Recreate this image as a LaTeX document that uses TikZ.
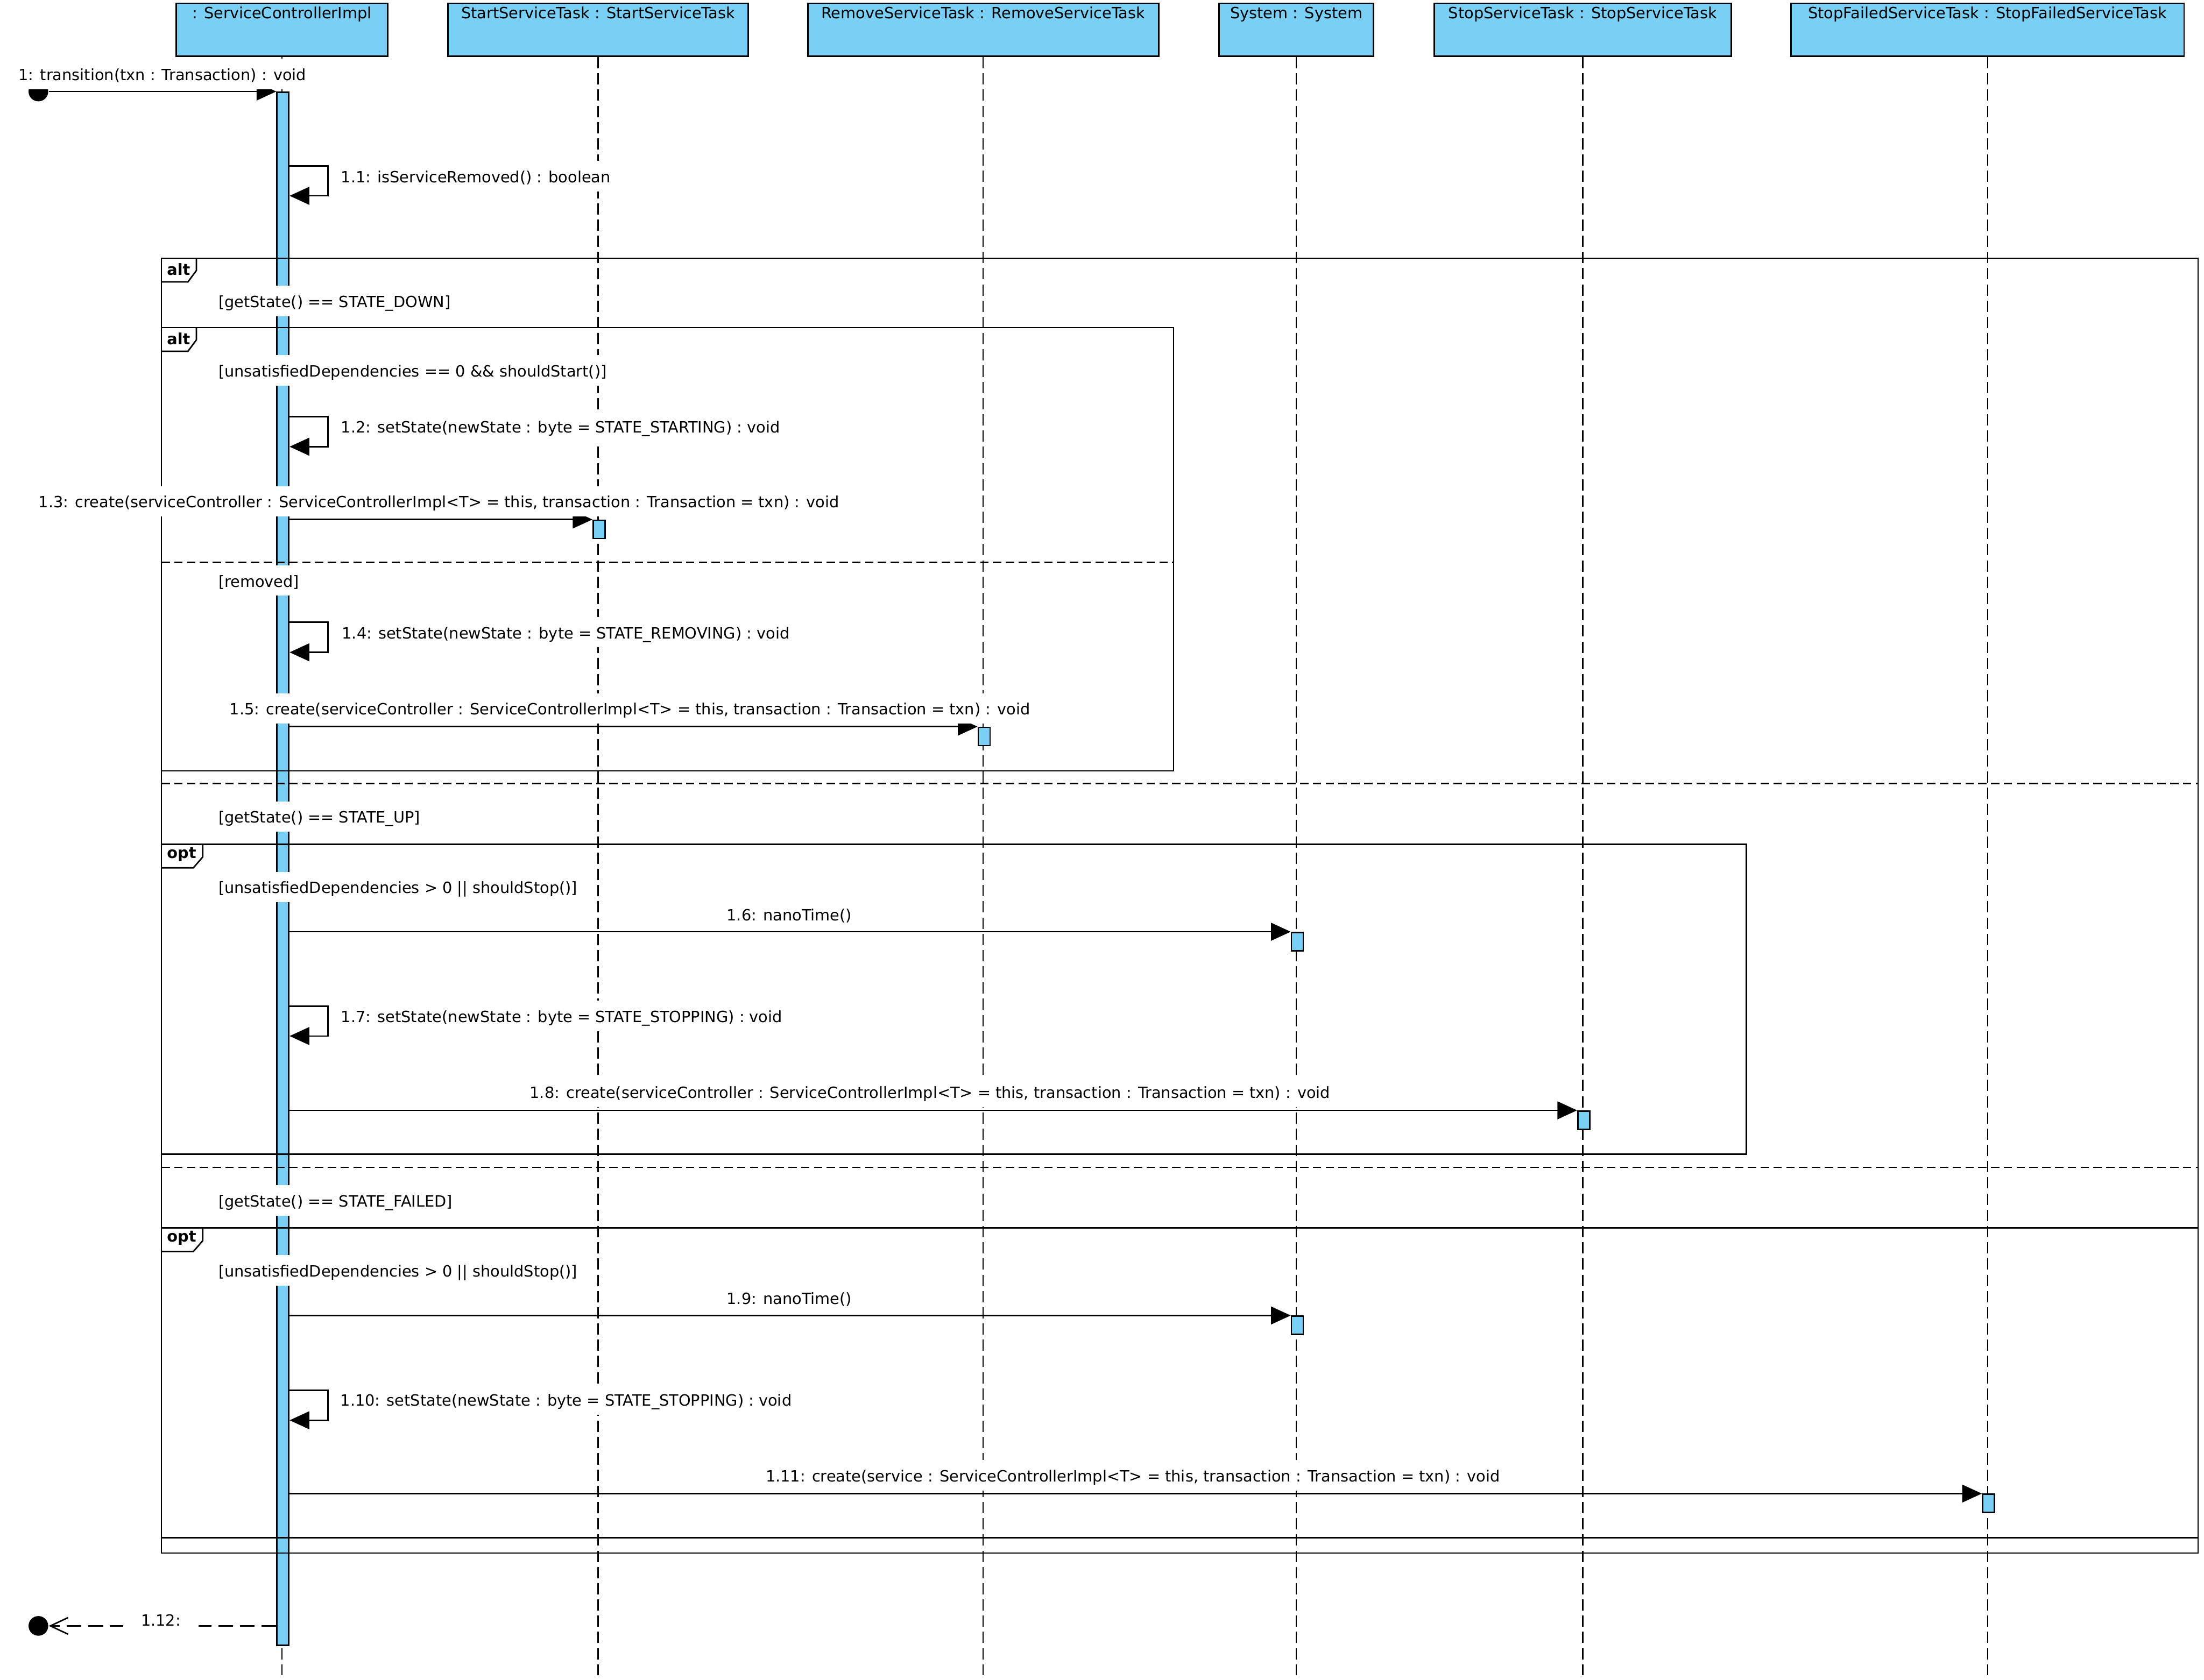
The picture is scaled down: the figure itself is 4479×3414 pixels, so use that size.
\documentclass[tikz,border=0pt]{standalone}
\usepackage{fontspec}
\setmainfont{DejaVu Sans}
\usetikzlibrary{arrows.meta}
\definecolor{sblue}{RGB}{122,207,245}
\begin{document}
\begin{tikzpicture}[x=0.2pt,y=-0.2pt,
  font=\fontsize{6.3pt}{7.5pt}\selectfont,
  hdrbox/.style={draw, line width=0.6pt, fill=sblue, inner sep=0pt, anchor=north west, minimum height=21.6pt},
  hdrtxt/.style={anchor=base, inner sep=0pt},
  lifeline/.style={line width=0.5pt, dash pattern=on 4.6pt off 2pt},
  act/.style={draw, line width=0.6pt, fill=sblue, inner sep=0pt, anchor=north west, minimum width=4.8pt, minimum height=7.4pt},
  frame/.style={line width=0.6pt},
  divider/.style={line width=0.6pt, dash pattern=on 3.4pt off 1.8pt},
  msg/.style={line width=0.6pt, -{Triangle[length=8pt,width=7.2pt]}},
  ret/.style={line width=0.6pt, dash pattern=on 6pt off 2.8pt, -{Straight Barb[length=7.2pt,width=6.8pt,line width=0.6pt]}},
  dot/.style={circle, fill=black, inner sep=0pt, minimum size=8pt},
  lbl/.style={fill=white, inner xsep=1pt, inner ysep=1.2pt, text height=0.76em, text depth=0.24em},
  tabtxt/.style={inner sep=0pt, font=\fontsize{6.3pt}{7.5pt}\selectfont\bfseries}
]
\fill[white] (0,0) rectangle (4479,3414);
\useasboundingbox (0,0) rectangle (4479,3414);
\coordinate (bot) at (0,3405);

% header boxes
\node[hdrbox, minimum width=85.8pt] (h1) at (357,5) {};
\node[hdrbox, minimum width=122pt] (h2) at (909,5) {};
\node[hdrbox, minimum width=142.6pt] (h3) at (1640,5) {};
\node[hdrbox, minimum width=62.8pt] (h4) at (2476,5) {};
\node[hdrbox, minimum width=120.8pt] (h5) at (2913,5) {};
\node[hdrbox, minimum width=159.8pt] (h6) at (3638,5) {};
\node[hdrtxt] (h1t) at (h1.north |- 0,38) {: ServiceControllerImpl};
\node[hdrtxt] (h2t) at (h2.north |- 0,38) {StartServiceTask : StartServiceTask};
\node[hdrtxt] (h3t) at (h3.north |- 0,38) {RemoveServiceTask : RemoveServiceTask};
\node[hdrtxt] (h4t) at (h4.north |- 0,38) {System : System};
\node[hdrtxt] (h5t) at (h5.north |- 0,38) {StopServiceTask : StopServiceTask};
\node[hdrtxt] (h6t) at (h6.north |- 0,38) {StopFailedServiceTask : StopFailedServiceTask};

% lifelines
\foreach \h in {h1,h2,h3,h4,h5,h6}{
  \draw[lifeline] (\h.south) -- (\h.south |- bot);
}

% activation bars
\node[act, minimum height=631.4pt] (a0) at (561.5,186) {};
\node[act] (a1) at (1204,1056) {};
\node[act] (a2) at (1986.5,1477) {};
\node[act] (a3) at (2623,1894) {};
\node[act] (a4) at (3205,2257) {};
\node[act] (a5) at (2623,2674) {};
\node[act] (a6) at (4027.5,3036) {};

% frames
\draw[frame] (328,525) rectangle (4467,3157);
\draw[frame] (399,525) -- (399,550) -- (382,573) -- (328,573);
\node[tabtxt] (tA) at (363,548) {alt};
\draw[frame] (328,666) rectangle (2385,1567);
\draw[frame] (399,666) -- (399,691) -- (382,714) -- (328,714);
\node[tabtxt] (tB) at (363,689) {alt};
\draw[divider] (328,1143) -- (2385,1143);
\draw[divider] (328,1593) -- (4467,1593);
\draw[frame] (328,1716) rectangle (3549,2346);
\draw[frame] (412,1716) -- (412,1742) -- (393,1764) -- (328,1764);
\node[tabtxt] (tC) at (369,1737) {opt};
\draw[divider] (328,2373) -- (4467,2373);
\draw[frame] (328,2496) rectangle (4467,3126);
\draw[frame] (412,2496) -- (412,2522) -- (393,2544) -- (328,2544);
\node[tabtxt] (tD) at (369,2517) {opt};

% start / end dots
\node[dot] (start) at (78,186) {};
\node[dot] (endd) at (78,3305) {};

% messages
\draw[msg] (start) -- (a0.north west);
\draw[msg] (a0.east |- 0,337) -- ++(78,0) |- (a0.east |- 0,398);
\draw[msg] (a0.east |- 0,847) -- ++(78,0) |- (a0.east |- 0,908);
\draw[msg] (a0.east |- a1.north) -- (a1.north west);
\draw[msg] (a0.east |- 0,1265) -- ++(78,0) |- (a0.east |- 0,1326);
\draw[msg] (a0.east |- a2.north) -- (a2.north west);
\draw[msg] (a0.east |- a3.north) -- (a3.north west);
\draw[msg] (a0.east |- 0,2045) -- ++(78,0) |- (a0.east |- 0,2106);
\draw[msg] (a0.east |- a4.north) -- (a4.north west);
\draw[msg] (a0.east |- a5.north) -- (a5.north west);
\draw[msg] (a0.east |- 0,2826) -- ++(78,0) |- (a0.east |- 0,2887);
\draw[msg] (a0.east |- a6.north) -- (a6.north west);
\draw[ret] (a0.west |- endd) -- (endd.east);

% labels
\node[lbl] (l1) at (330,150) {1: transition(txn : Transaction) : void};
\node[lbl, anchor=west] (l11) at (687,358) {1.1: isServiceRemoved() : boolean};
\node[lbl, anchor=west] (g1) at (438,612) {[getState() == STATE\_DOWN]};
\node[lbl, anchor=west] (g2) at (438,753) {[unsatisfiedDependencies == 0 \&\& shouldStart()]};
\node[lbl, anchor=west] (l12) at (687,867) {1.2: setState(newState : byte = STATE\_STARTING) : void};
\node[lbl] (l13) at (892,1019) {1.3: create(serviceController : ServiceControllerImpl<T> = this, transaction : Transaction = txn) : void};
\node[lbl, anchor=west] (g3) at (438,1180) {[removed]};
\node[lbl, anchor=west] (l14) at (689,1285) {1.4: setState(newState : byte = STATE\_REMOVING) : void};
\node[lbl] (l15) at (1280,1440) {1.5: create(serviceController : ServiceControllerImpl<T> = this, transaction : Transaction = txn) : void};
\node[lbl, anchor=west] (g4) at (438,1660) {[getState() == STATE\_UP]};
\node[lbl, anchor=west] (g5) at (438,1803) {[unsatisfiedDependencies > 0 || shouldStop()]};
\node[lbl] (l16) at (1604,1858) {1.6: nanoTime()};
\node[lbl, anchor=west] (l17) at (687,2065) {1.7: setState(newState : byte = STATE\_STOPPING) : void};
\node[lbl] (l18) at (1890,2219) {1.8: create(serviceController : ServiceControllerImpl<T> = this, transaction : Transaction = txn) : void};
\node[lbl, anchor=west] (g6) at (438,2440) {[getState() == STATE\_FAILED]};
\node[lbl, anchor=west] (g7) at (438,2582) {[unsatisfiedDependencies > 0 || shouldStop()]};
\node[lbl] (l19) at (1604,2638) {1.9: nanoTime()};
\node[lbl, anchor=west] (l110) at (686,2845) {1.10: setState(newState : byte = STATE\_STOPPING) : void};
\node[lbl] (l111) at (2302,2999) {1.11: create(service : ServiceControllerImpl<T> = this, transaction : Transaction = txn) : void};
\node[lbl, inner xsep=7.2pt] (l112) at (327,3292) {1.12:};
\end{tikzpicture}
\end{document}
